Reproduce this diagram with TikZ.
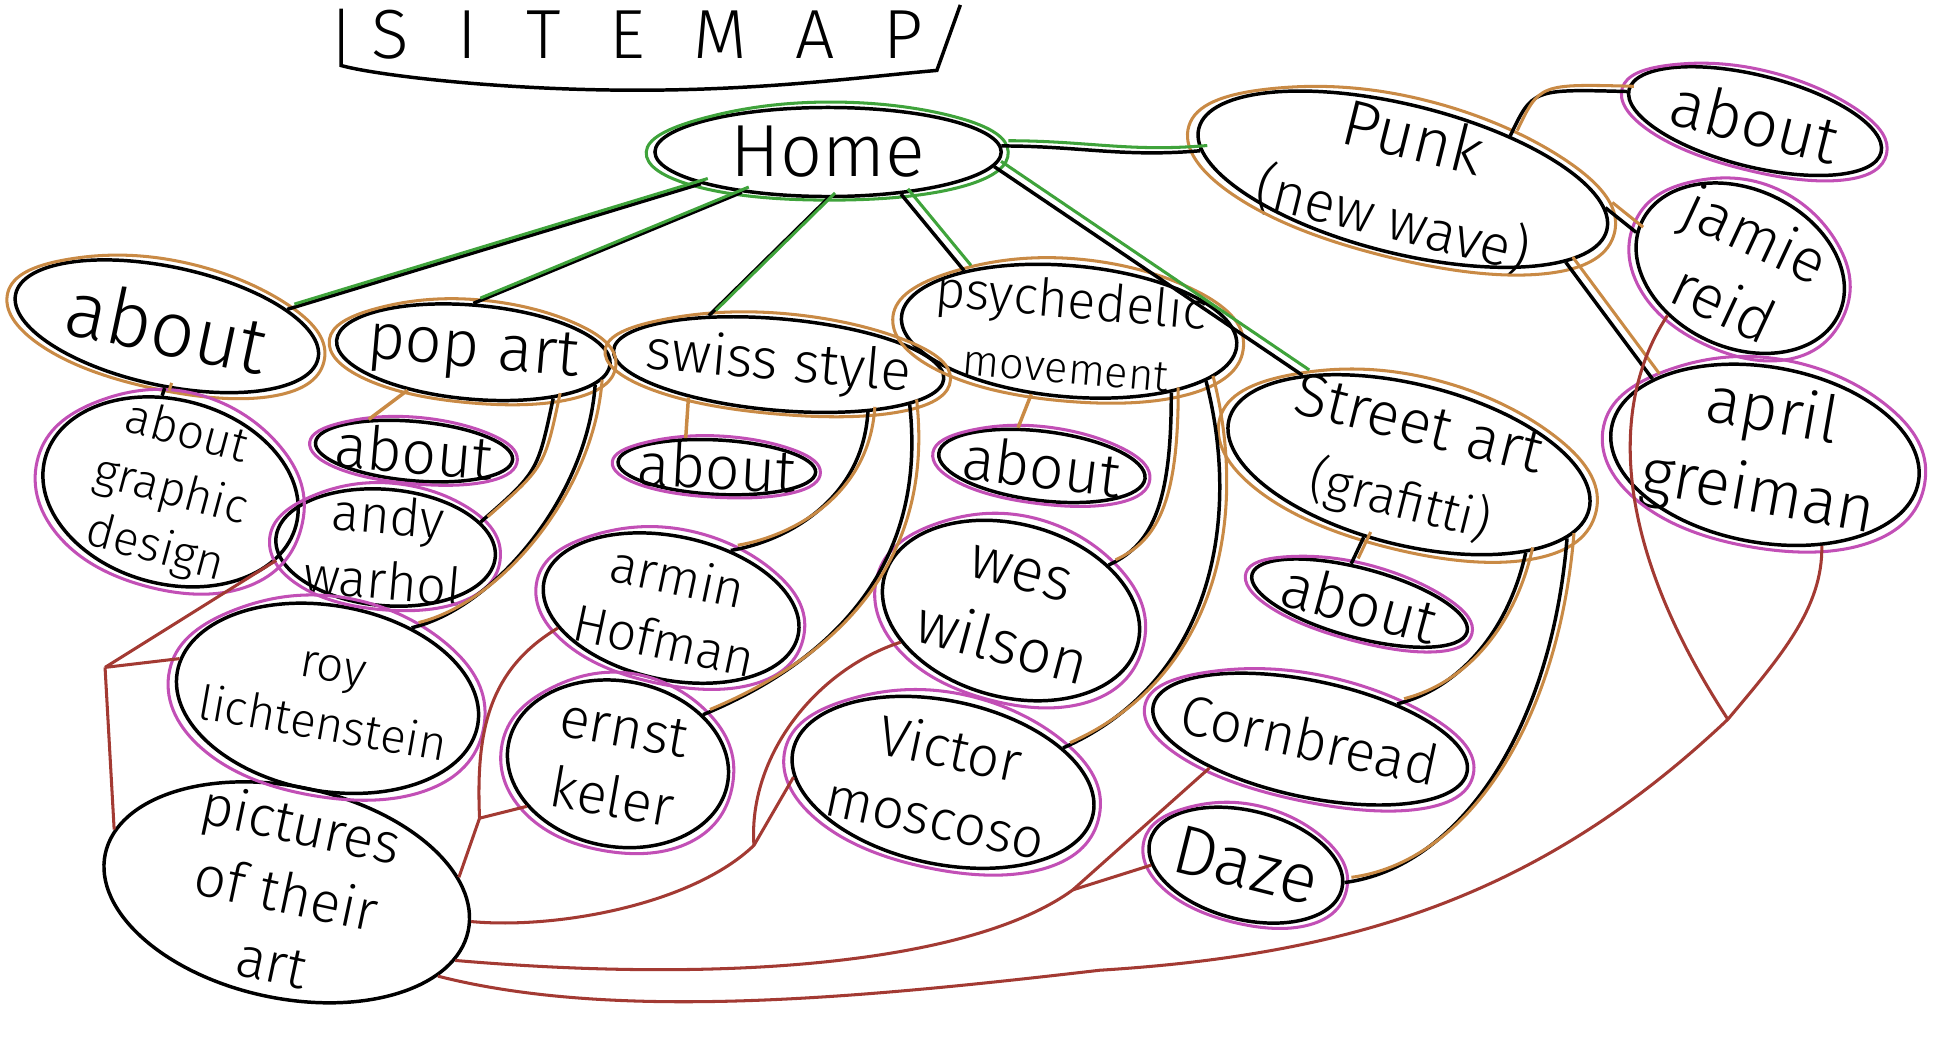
\documentclass[tikz,border=0pt]{standalone}
\usepackage{fontspec}
\setmainfont{Fira Sans Light}
\usetikzlibrary{shapes.geometric, calc}

\definecolor{grn}{HTML}{3FA33B}
\definecolor{org}{HTML}{C98A45}
\definecolor{mag}{HTML}{C24FB6}
\definecolor{rd}{HTML}{A33A33}

\tikzset{
  bubble/.style={ellipse, draw, line width=0.8pt, inner sep=-4pt, align=center},
  txt/.style={font=\fontsize{#1}{\fpeval{1.25*#1}}\selectfont},
  link/.style={line width=0.8pt},
  tie/.style={rd, line width=0.7pt}
}

% black stroke with a coloured stroke beside it
\newcommand{\twin}[2]{%
  \draw [link] #2;
  \draw [#1, line width=0.7pt, transform canvas={shift={(1.6pt,1.2pt)}}] #2;}

% coloured ring round a bubble
\newcommand{\halo}[2]{%
  \foreach \a/\f [count=\i] in {north/1.08, north east/1.05, east/1.03, south east/1.07, south/1.04, south west/1.06, west/1.04, north west/1.02}
    {\coordinate (h\i) at ($(#1.center)!\f!(#1.\a)$);}
  \draw [#2, line width=0.7pt] plot [smooth cycle, tension=0.7]
    coordinates {(h1) (h2) (h3) (h4) (h5) (h6) (h7) (h8)};}

\begin{document}
\begin{tikzpicture}[x=0.01cm, y=0.01cm]
\useasboundingbox (0,0) rectangle (1568,852);

% title
\node (title) [txt=16] at (524,824) {\addfontfeatures{LetterSpace=70}SITEMAP};
\draw [link] (276,845) -- (276,799) .. controls (300,792) and (400,779) .. (516,779)
  .. controls (620,779) and (700,790) .. (758,795) -- (777,848);

% top
\node (home) [bubble, txt=17, minimum width=2.8cm, minimum height=0.72cm] at (670,729) {Home};

% sections
\node (about) [bubble, txt=18, minimum width=2.5cm, minimum height=0.96cm, rotate=-12] at (135,588) {about};
\node (popart) [bubble, txt=15, minimum width=2.22cm, minimum height=0.76cm, rotate=-5] at (383,567) {pop art};
\node (swiss) [bubble, txt=13, minimum width=2.68cm, minimum height=0.74cm, rotate=-5] at (630,557) {swiss style};
\node (psych) [bubble, txt=12, minimum width=2.68cm, minimum height=1.06cm, rotate=-5] at (865,584)
  {psychedelic\\{\fontsize{10}{13}\selectfont movement}};
\node (punk) [bubble, txt=15, minimum width=3.4cm, minimum height=1.2cm, rotate=-14] at (1135,707)
  {Punk\\{\fontsize{13}{18}\selectfont (new wave)}};
\node (street) [bubble, txt=14, minimum width=3.0cm, minimum height=1.3cm, rotate=-14] at (1140,476)
  {Street art\\{\fontsize{12}{17}\selectfont (grafitti)}};

% pages
\node (agd) [bubble, txt=11, minimum width=2.1cm, minimum height=1.46cm, rotate=-15] at (138,454) {about\\graphic\\design};
\node (aboutpop) [bubble, txt=14, minimum width=1.6cm, minimum height=0.48cm, rotate=-5] at (335,487) {about};
\node (andy) [bubble, txt=12, minimum width=1.78cm, minimum height=0.94cm, rotate=-5] at (312,409) {andy\\warhol};
\node (roy) [bubble, txt=11, minimum width=2.44cm, minimum height=1.5cm, rotate=-10] at (265,287) {roy\\lichtenstein};
\node (aboutsw) [bubble, txt=14, minimum width=1.6cm, minimum height=0.44cm, rotate=-3] at (580,474) {about};
\node (armin) [bubble, txt=12, minimum width=2.1cm, minimum height=1.16cm, rotate=-12] at (543,360) {armin\\Hofman};
\node (ernst) [bubble, txt=13, minimum width=1.8cm, minimum height=1.34cm, rotate=-10] at (500,234) {ernst\\keler};
\node (aboutps) [bubble, txt=14, minimum width=1.68cm, minimum height=0.56cm, rotate=-7] at (843,475) {about};
\node (wes) [bubble, txt=14, minimum width=2.12cm, minimum height=1.4cm, rotate=-15] at (818,358) {wes\\wilson};
\node (victor) [bubble, txt=13, minimum width=2.48cm, minimum height=1.32cm, rotate=-12] at (763,219) {Victor\\moscoso};
\node (aboutst) [bubble, txt=14, minimum width=1.8cm, minimum height=0.56cm, rotate=-15] at (1100,364) {about};
\node (cornbread) [bubble, txt=13, minimum width=2.44cm, minimum height=0.94cm, rotate=-12] at (1060,254) {Cornbread};
\node (daze) [bubble, txt=16, minimum width=1.6cm, minimum height=0.88cm, rotate=-14] at (1008,152) {Daze};
\node (aboutpk) [bubble, txt=15, minimum width=2.1cm, minimum height=0.74cm, rotate=-14] at (1420,754) {about};
\node (jamie) [bubble, txt=14, minimum width=1.76cm, minimum height=1.28cm, rotate=-25] at (1408,635) {jamie\\reid};
\node (april) [bubble, txt=15, minimum width=2.52cm, minimum height=1.42cm, rotate=-10] at (1428,484) {april\\greiman};
\node (pictures) [bubble, txt=13, minimum width=3.0cm, minimum height=1.56cm, rotate=-12] at (232,130) {pictures\\of their\\art};

% coloured rings
\halo{home}{grn}
\foreach \n in {about, popart, swiss, psych, punk, street} {\halo{\n}{org}}
\foreach \n in {agd, aboutpop, andy, roy, aboutsw, armin, ernst, aboutps, wes, victor,
  aboutst, cornbread, daze, aboutpk, jamie, april} {\halo{\n}{mag}}

% home to sections
\foreach \a/\b in {home.194/about.20, home.205/popart.95, home.270/swiss.150,
  home.330/psych.155, home.355/street.154} {\twin{grn}{(\a) -- (\b)}}
\twin{grn}{(home.2) to[out=0, in=185] (punk.186)}

% sections to pages
\twin{org}{(about.280) -- (agd.110)}
\draw [org, link] (popart.215) -- (aboutpop.150);
\twin{org}{(popart.335) .. controls (435,470) .. (andy.20)}
\twin{org}{(popart.350) .. controls (475,450) and (400,360) .. (roy.50)}
\draw [org, link] (swiss.205) -- (aboutsw.140);
\twin{org}{(swiss.337) .. controls (698,450) and (640,415) .. (armin.56)}
\twin{org}{(swiss.348) .. controls (750,400) and (680,320) .. (ernst.40)}
\draw [org, link] (psych.244) -- (aboutps.129);
\twin{org}{(psych.334) .. controls (948,440) and (930,410) .. (wes.40)}
\twin{org}{(psych.345) .. controls (1005,430) and (980,300) .. (victor.28)}
\twin{org}{(street.252) -- (aboutst.117)}
\twin{org}{(street.337) .. controls (1220,340) and (1180,295) .. (cornbread.34)}
\twin{org}{(street.349) .. controls (1255,260) and (1180,150) .. (daze.4)}
\twin{org}{(punk.36) .. controls (1240,780) .. (aboutpk.181)}
\twin{org}{(punk.6) -- (jamie.186)}
\twin{org}{(punk.347) -- (april.156)}

% pages to pictures of their art
\coordinate (j1) at (85,312);
\coordinate (j2) at (388,190);
\coordinate (j3) at (610,168);
\coordinate (j4) at (868,132);
\coordinate (j5) at (1398,270);
\coordinate (bend1) at (890,67);
\draw [tie] (agd.342) -- (j1);
\draw [tie] (roy.175) -- (j1);
\draw [tie] (j1) -- (pictures.172);
\draw [tie] (armin.202) .. controls (395,310) and (385,260) .. (j2);
\draw [tie] (ernst.215) -- (j2);
\draw [tie] (j2) -- (pictures.17);
\draw [tie] (victor.190) -- (j3) .. controls (560,120) and (450,100) .. (pictures.3);
\draw [tie] (wes.211) .. controls (660,310) and (605,240) .. (j3);
\draw [tie] (cornbread.208) -- (j4);
\draw [tie] (daze.194) -- (j4);
\draw [tie] (j4) .. controls (790,75) and (600,55) .. (pictures.350);
\draw [tie] (jamie.238) .. controls (1305,530) and (1300,420) .. (j5);
\draw [tie] (april.312) .. controls (1475,360) and (1440,320) .. (j5);
\draw [tie] (j5) .. controls (1250,130) and (1100,80) .. (bend1)
  .. controls (700,45) and (500,25) .. (pictures.343);
\end{tikzpicture}
\end{document}
